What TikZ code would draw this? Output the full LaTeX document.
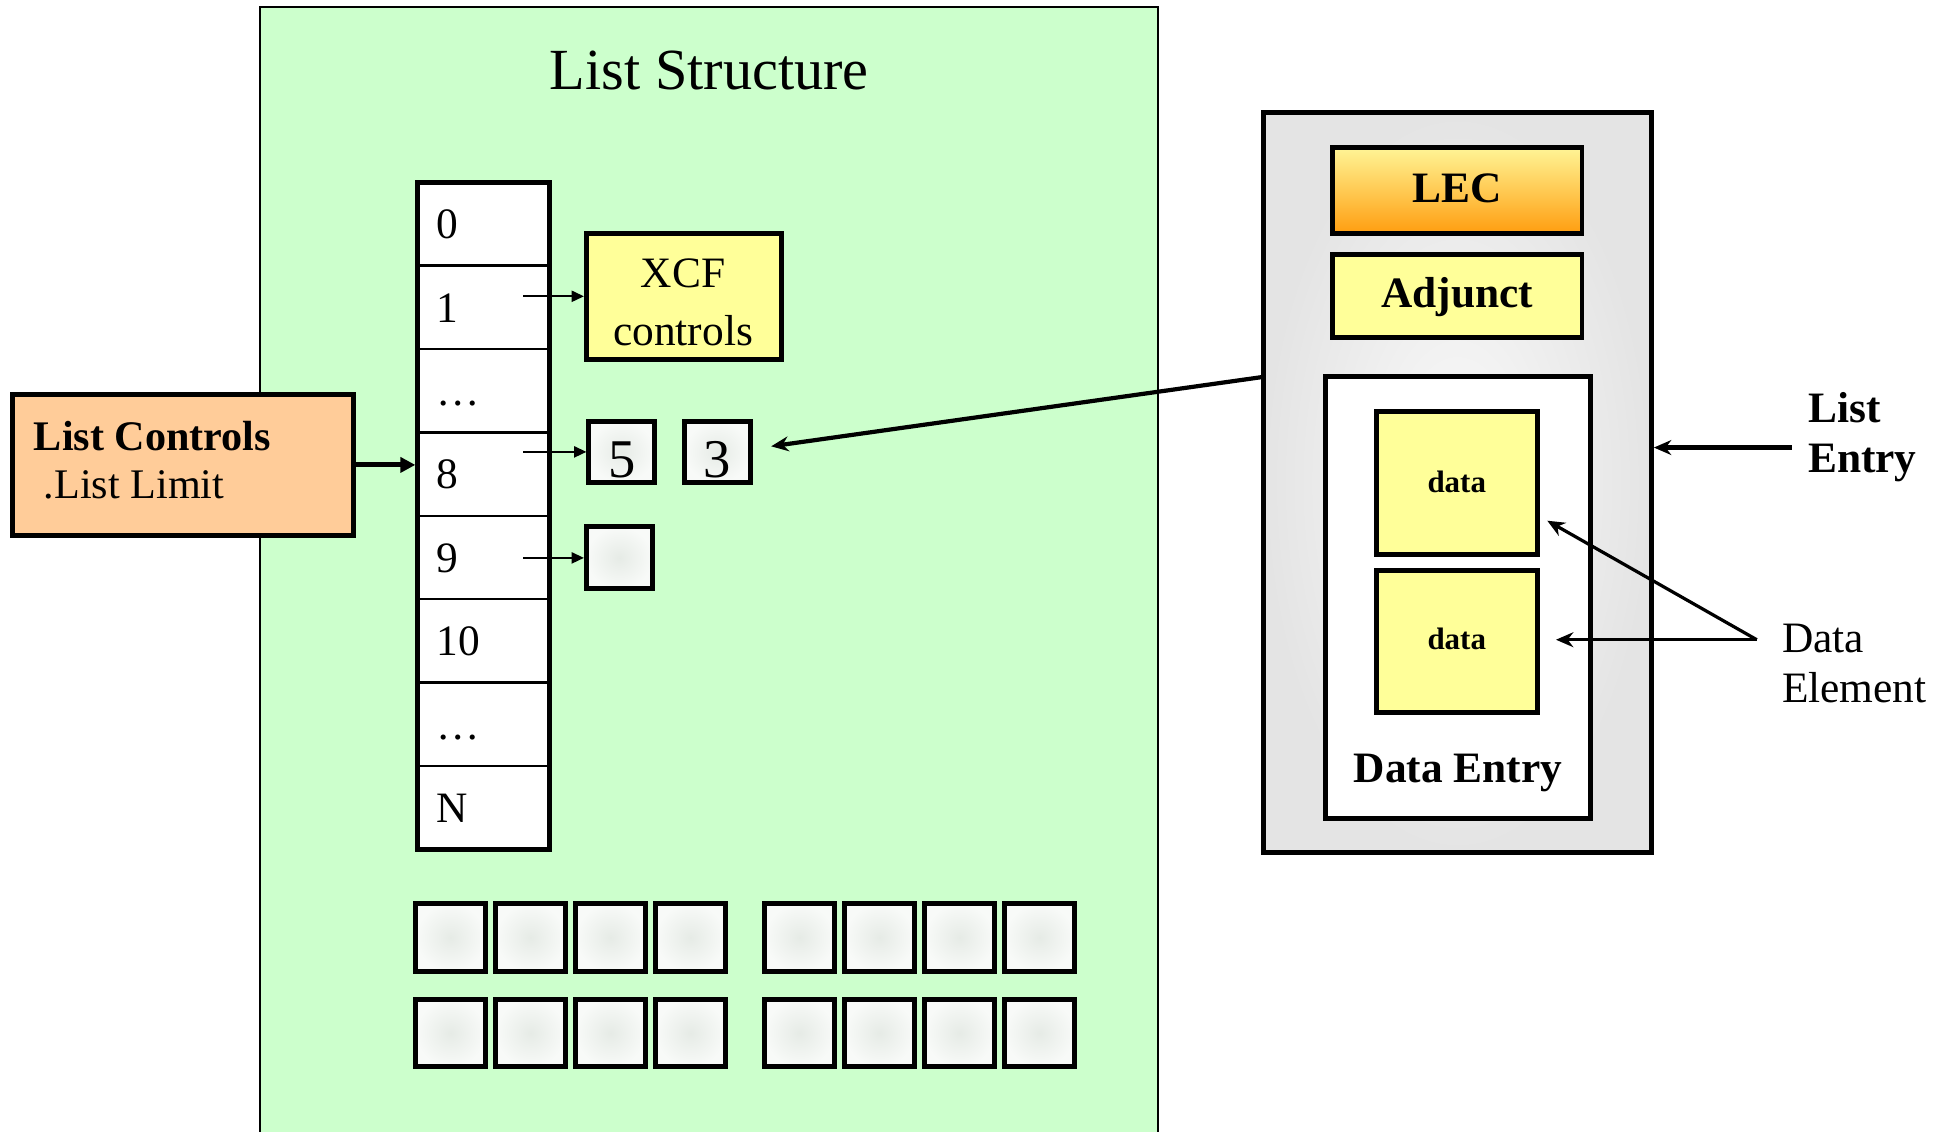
\documentclass[tikz,border=0pt]{standalone}
\usepackage{fontspec}
\setmainfont{Liberation Serif}
\usetikzlibrary{arrows.meta}
\definecolor{lsgreen}{RGB}{204,255,204}
\definecolor{peach}{RGB}{255,204,153}
\definecolor{lyellow}{RGB}{255,255,153}
\definecolor{legray}{RGB}{228,228,228}
\definecolor{lecenter}{RGB}{250,250,250}
\definecolor{cellin}{RGB}{230,235,230}
\definecolor{cellout}{RGB}{248,250,248}
\definecolor{lectop}{RGB}{255,245,150}
\definecolor{lecbot}{RGB}{255,158,16}
\newcommand\fTitle{\fontsize{23.5}{28}\selectfont}
\newcommand\fMid{\fontsize{17.5}{21}\selectfont}
\newcommand\fLc{\fontsize{17}{21}\selectfont}
\newcommand\fBig{\fontsize{22}{26}\selectfont}
\newcommand\fSmall{\fontsize{12.5}{15}\selectfont}
\newcommand\mybox[7]{\node[#6, minimum width={(#4-#2)*0.5pt}, minimum height={(#5-#3)*0.5pt}] (#1) at ({(#2+#4)/2},{(#3+#5)/2}) {#7};}
\begin{document}
\begin{tikzpicture}[x=0.5pt,y=-0.5pt,
  thickbox/.style={draw, line width=2pt, inner sep=0pt},
  cellbox/.style={draw, line width=1pt, fill=white, inner sep=0pt},
  graybox/.style={thickbox, inner color=cellin, outer color=cellout},
  txt/.style={inner sep=0pt, anchor=base},
  txtl/.style={inner sep=0pt, anchor=base west},
  smallarr/.style={-{Triangle[length=5pt,width=4.5pt]}, line width=0.8pt},
  bigarr/.style={-{Triangle[length=6pt,width=6pt]}, line width=2pt},
  medarr/.style={-{Stealth[length=7pt,width=6pt]}, line width=1.7pt},
  delarr/.style={-{Stealth[length=7pt,width=6pt]}, line width=1.3pt}]
\useasboundingbox (0,0) rectangle (1568,913);
% List Structure panel
\fill[lsgreen] (210,6) rectangle (934,913);
\draw[line width=0.8pt] (210,913) -- (210,6) -- (934,6) -- (934,913);
\node[txt] (title) at (572,72) {\fTitle List Structure};
% List Controls
\mybox{lc}{10}{318}{285}{432}{thickbox, fill=peach}{}
\node[txtl] (lct1) at (27,363) {\fLc\bfseries List Controls};
\node[txtl] (lct2) at (35,402) {\fLc .List Limit};
% array cells
\foreach \i/\lab in {0/0,1/1,2/…,3/8,4/9,5/10,6/…,7/N}{
  \pgfmathsetmacro\ya{147+\i*67.25}
  \pgfmathsetmacro\yb{\ya+67.25}
  \mybox{c\i}{337}{\ya}{443}{\yb}{cellbox}{}
  \node[txtl] (l\i) at (352,{\ya+33.6+12}) {\fMid \lab};
}
\mybox{col}{337}{147}{443}{685}{thickbox}{}
\draw[bigarr] (lc.east) -- (lc.east -| col.west);
% XCF controls
\mybox{xcf}{473}{188}{630}{290}{thickbox, fill=lyellow}{}
\node[txt] (xcft1) at (551,232) {\fMid XCF};
\node[txt] (xcft2) at (551,279) {\fMid controls};
% entries
\mybox{b5}{475}{340}{528}{389}{graybox}{}
\node[txt] (b5t) at (501.5,385) {\fBig 5};
\mybox{b3}{552}{340}{605}{389}{graybox}{}
\node[txt] (b3t) at (578.5,385) {\fBig 3};
\mybox{b9}{473}{425}{526}{475}{graybox}{}
\coordinate (a1) at (422,239);
\coordinate (a8) at (422,364.5);
\coordinate (a9) at (422,450);
\draw[smallarr] (a1) -- (xcf.west);
\draw[smallarr] (a8) -- (b5.west);
\draw[smallarr] (a9) -- (b9.west);
% bottom grid
\foreach \y [count=\r] in {729,806}{
  \foreach \x [count=\k] in {335.5,400,464.5,529,617,681.5,746,810.5}{
    \mybox{g\r-\k}{\x}{\y}{\x+56}{\y+54.5}{graybox}{}
  }
}
% List Entry
\mybox{le}{1019}{91}{1332}{688}{thickbox, inner color=lecenter, outer color=legray}{}
\mybox{lec}{1075}{119}{1276}{188}{thickbox, top color=lectop, bottom color=lecbot}{}
\node[txt] (lect) at (1175.5,163) {\fMid\bfseries LEC};
\mybox{adj}{1075}{205}{1276}{272}{thickbox, fill=lyellow}{}
\node[txt] (adjt) at (1175.5,248) {\fMid\bfseries Adjunct};
\mybox{de}{1069}{304}{1283}{660}{thickbox, fill=white}{}
\mybox{d1}{1110}{332}{1240}{447}{thickbox, fill=lyellow}{}
\node[txt] (d1t) at (1175,397) {\fSmall\bfseries data};
\mybox{d2}{1110}{460}{1240}{575}{thickbox, fill=lyellow}{}
\node[txt] (d2t) at (1175,524) {\fSmall\bfseries data};
\node[txt] (det) at (1176,631) {\fMid\bfseries Data Entry};
% arrow list entry -> 3
\coordinate (lep) at (1019,304);
\coordinate (t3) at (622,360);
\draw[medarr] (lep) -- (t3);
% List Entry label
\node[txtl] (let1) at (1458,341) {\fMid\bfseries List};
\node[txtl] (let2) at (1458,381) {\fMid\bfseries Entry};
\coordinate (lea) at (1445,361);
\draw[medarr] (lea) -- (lea -| le.east);
% Data Element label
\node[txtl] (delt1) at (1437,526) {\fMid Data};
\node[txtl] (delt2) at (1437,567) {\fMid Element};
\coordinate (dj) at (1417,516);
\coordinate (dt1) at (1248,420);
\coordinate (dt2) at (1255,516);
\draw[delarr] (dj) -- (dt1);
\draw[delarr] (dj) -- (dt2);
\end{tikzpicture}
\end{document}
